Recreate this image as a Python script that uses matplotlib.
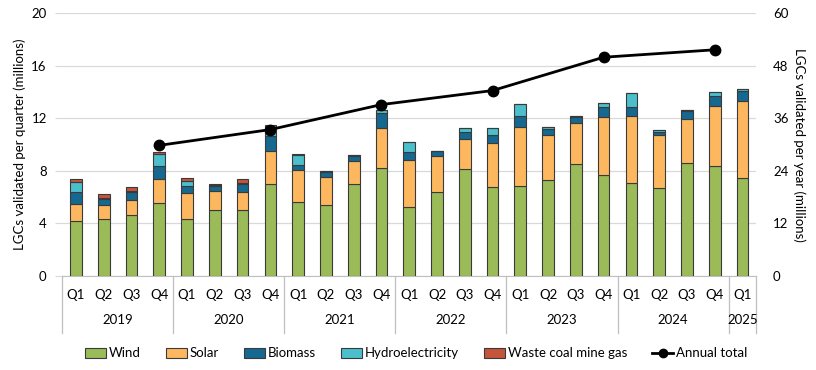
import matplotlib.pyplot as plt
import numpy as np
from matplotlib.lines import Line2D
from matplotlib.patches import Patch
import matplotlib.transforms as mtransforms

plt.rcParams['font.family'] = ['Lato', 'DejaVu Sans']
plt.rcParams['font.size'] = 9.5

# Quarterly values (millions of LGCs)
quarters = ['Q1', 'Q2', 'Q3', 'Q4'] * 6 + ['Q1']
years = ['2019', '2020', '2021', '2022', '2023', '2024', '2025']
wind = [4.19, 4.34, 4.62, 5.53, 4.31, 5.00, 5.00, 7.00, 5.61, 5.38, 7.03, 8.25,
        5.28, 6.35, 8.12, 6.75, 6.83, 7.31, 8.50, 7.67, 7.06, 6.70, 8.58, 8.40, 7.46]
solar = [1.27, 1.04, 1.14, 1.83, 1.99, 1.47, 1.42, 2.52, 2.44, 2.18, 1.70, 3.02,
         3.53, 2.74, 2.29, 3.35, 4.52, 3.43, 3.13, 4.39, 5.07, 4.01, 3.38, 4.49, 5.84]
biomass = [0.89, 0.51, 0.66, 1.02, 0.58, 0.38, 0.58, 1.14, 0.40, 0.38, 0.41, 1.12,
           0.63, 0.38, 0.56, 0.61, 0.78, 0.46, 0.46, 0.79, 0.74, 0.23, 0.55, 0.79, 0.74]
hydro = [0.76, 0.05, 0.06, 0.86, 0.33, 0.05, 0.05, 0.28, 0.74, 0.05, 0.07, 0.20,
         0.76, 0.07, 0.28, 0.54, 0.94, 0.12, 0.07, 0.28, 1.04, 0.18, 0.11, 0.33, 0.18]
waste = [0.23, 0.30, 0.30, 0.18, 0.23, 0.10, 0.36, 0.52, 0.10, 0.03, 0.0, 0.0,
         0.0, 0.0, 0.0, 0.0, 0.0, 0.0, 0.0, 0.0, 0.0, 0.0, 0.0, 0.0, 0.0]

# Annual totals, plotted at each year's Q4
annual_idx = [3, 7, 11, 15, 19, 23]
annual_total = [29.8, 33.4, 39.1, 42.3, 49.9, 51.6]

series = [('Wind', wind, '#9BBB59'),
          ('Solar', solar, '#FDB85F'),
          ('Biomass', biomass, '#15688F'),
          ('Hydroelectricity', hydro, '#4BC0CC'),
          ('Waste coal mine gas', waste, '#C4553B')]

fig = plt.figure(figsize=(8.16, 3.70), dpi=100)
ax = fig.add_axes([0.076, 0.254, 0.851, 0.711])
x = np.arange(len(quarters))

bottom = np.zeros(len(x))
for name, vals, col in series:
    vals = np.array(vals)
    ax.bar(x, vals, width=0.42, bottom=bottom, color=col, edgecolor='#3a3a3a',
           linewidth=0.8, zorder=3)
    bottom += vals

ax.set_xlim(-0.5, len(x) - 0.5)
ax.set_ylim(0, 20)
ax.set_yticks([0, 4, 8, 12, 16, 20])
ax.grid(axis='y', color='#d9d9d9', linewidth=0.9, zorder=0)
ax.set_ylabel('LGCs validated per quarter (millions)', labelpad=4)

for s in ['top', 'right', 'left']:
    ax.spines[s].set_visible(False)
ax.spines['bottom'].set_color('#bfbfbf')
ax.tick_params(axis='y', length=5, color='#d9d9d9', pad=6)
ax.set_xticks(x)
ax.set_xticklabels(quarters)
ax.tick_params(axis='x', length=0, pad=9)

# year labels and separators
trans = mtransforms.blended_transform_factory(ax.transData, ax.transAxes)
starts = [0, 4, 8, 12, 16, 20, 24]
ends = [3, 7, 11, 15, 19, 23, 24]
for yr, s0, e0 in zip(years, starts, ends):
    ax.text((s0 + e0) / 2, -0.168, yr, transform=trans, ha='center', va='center')
for b in [-0.5, 3.5, 7.5, 11.5, 15.5, 19.5, 23.5, 24.5]:
    ax.add_line(Line2D([b, b], [0, -0.215], transform=trans, color='#bfbfbf',
                       linewidth=0.9, clip_on=False))

ax2 = ax.twinx()
ax2.plot(annual_idx, annual_total, color='black', linewidth=2, marker='o',
         markersize=7.5, zorder=5)
ax2.set_ylim(0, 60)
ax2.set_yticks([0, 12, 24, 36, 48, 60])
for s in ['top', 'right', 'left', 'bottom']:
    ax2.spines[s].set_visible(False)
ax2.tick_params(axis='y', length=0, pad=12)
ax2.set_ylabel('LGCs validated per year (millions)', rotation=270, labelpad=12)

handles = [Patch(facecolor=col, edgecolor='#3a3a3a', linewidth=0.8, label=name)
           for name, vals, col in series]
handles.append(Line2D([0], [0], color='black', linewidth=2, marker='o',
                      markersize=6, label='Annual total'))
fig.legend(handles=handles, loc='center', bbox_to_anchor=(0.51, 0.045), ncol=6,
           frameon=False, handlelength=1.6, handletextpad=0.2, columnspacing=1.9,
           handleheight=0.8)

fig.savefig('out.png', dpi=100)
